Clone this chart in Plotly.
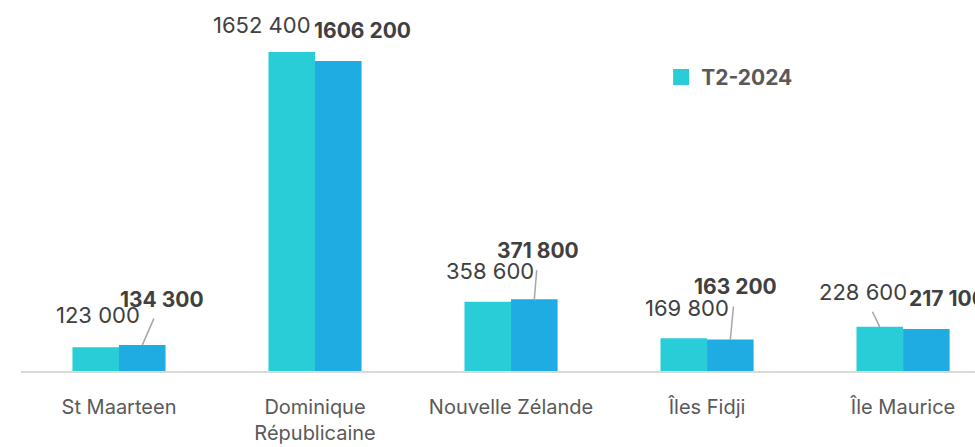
import plotly.graph_objects as go

categories = ["St Maarteen", "Dominique<br>Républicaine", "Nouvelle Zélande", "Îles Fidji", "Île Maurice"]
series_a_name = "T2-2023"
series_b_name = "T2-2024"
series_a = [123000, 1652400, 358600, 169800, 228600]
series_b = [134300, 1606200, 371800, 163200, 217100]
legend_label = "T2-2024"

def fmt(v):
    return f"{v // 1000} {v % 1000:03d}"

CYAN = "#29CDD8"
BLUE = "#1EACE2"
FONT = "Inter, Poppins, sans-serif"
LABEL_COLOR = "#404040"

# label offsets (pixels) from bar top-centre: (dx, dy, leader line?)
off_a = [(2, -32, False), (-30, -27, False), (2, -31, False), (3, -30, False), (-17, -35, True)]
off_b = [(20, -46, True), (24, -30, False), (4, -49, True), (5, -53, True), (21, -31, False)]

fig = go.Figure()
fig.add_trace(go.Bar(x=categories, y=series_a, name=series_a_name, marker_color=CYAN,
                     marker_line_width=0, showlegend=False))
fig.add_trace(go.Bar(x=categories, y=series_b, name=series_b_name, marker_color=BLUE,
                     marker_line_width=0, showlegend=False))
# legend entry
fig.add_trace(go.Scatter(x=[None], y=[None], mode="markers", name=legend_label,
                         marker=dict(symbol="square", size=16, color=CYAN)))

BAR_OFF = 23.3
annotations = []
for vals, offs, shift, bold in ((series_a, off_a, -BAR_OFF, False), (series_b, off_b, BAR_OFF, True)):
    for cat, v, (dx, dy, leader) in zip(categories, vals, offs):
        txt = f"<b>{fmt(v)}</b>" if bold else fmt(v)
        font = dict(family=FONT, size=21 if bold else 22, color=LABEL_COLOR)
        if leader:
            annotations.append(dict(x=cat, y=v, xref="x", yref="y", text=txt, font=font,
                                    showarrow=True, arrowhead=0, arrowwidth=1.5,
                                    arrowcolor="#A6A6A6", ax=dx, ay=dy, xshift=shift,
                                    standoff=0, startstandoff=6))
        else:
            annotations.append(dict(x=cat, y=v, xref="x", yref="y", text=txt, font=font,
                                    showarrow=False, xshift=shift + dx, yshift=-dy,
                                    xanchor="center", yanchor="middle"))

fig.update_layout(
    width=975, height=447,
    margin=dict(l=21, r=0, t=0, b=76),
    paper_bgcolor="white", plot_bgcolor="white",
    barmode="group", bargap=0.525, bargroupgap=0,
    annotations=annotations,
    showlegend=True,
    legend=dict(x=0.671, y=0.847, xanchor="left", yanchor="top",
                font=dict(family=FONT, size=21, color="#595959", weight="bold"),
                bgcolor="rgba(0,0,0,0)"),
    xaxis=dict(range=[-0.5, 4.367], showline=True, linecolor="#D9D9D9", linewidth=2,
               showgrid=False, zeroline=False, ticks="", ticklabelstandoff=17,
               tickfont=dict(family=FONT, size=20, color="#595959")),
    yaxis=dict(range=[0, 1922000], visible=False, showgrid=False, zeroline=False),
)

fig.write_html("out.html", config={"displayModeBar": False},
               post_script="document.body.style.margin='0';document.body.style.overflow='hidden';")
